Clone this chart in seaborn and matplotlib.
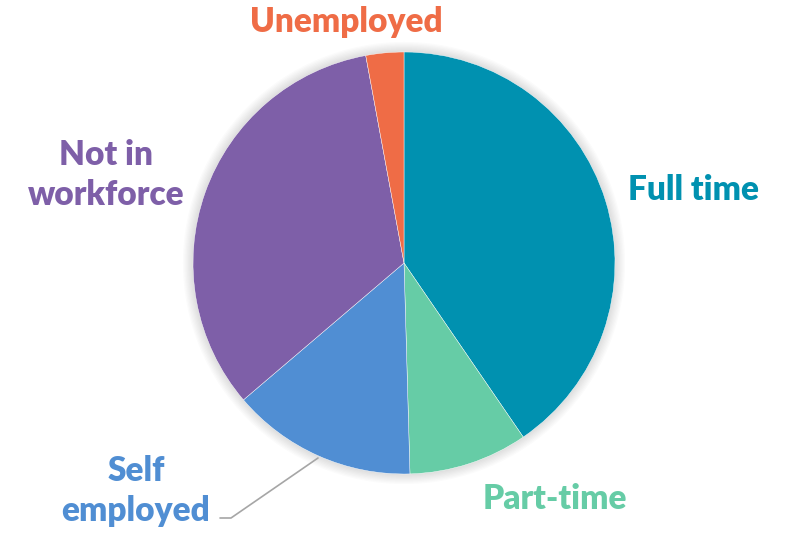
import matplotlib
matplotlib.use("Agg")
import matplotlib.pyplot as plt
import seaborn as sns
from matplotlib.patches import Circle

categories = ["Full time", "Part-time", "Self employed", "Not in workforce", "Unemployed"]
shares = [40.4, 9.1, 14.2, 33.3, 2.9]
label_texts = ["Full time", "Part-time", "Self\nemployed", "Not in\nworkforce", "Unemployed"]
colors = ["#0091b0", "#66cca6", "#508ed3", "#7e5fa8", "#ef6c46"]

sns.set_theme(style="white")
plt.rcParams["font.family"] = ["Lato", "DejaVu Sans"]

W, H = 789, 533
CX, CY, R = 404, 263, 211

fig = plt.figure(figsize=(W / 100, H / 100), dpi=100)
ax = fig.add_axes([0, 0, 1, 1])


def to_data(px, py):
    return (px - CX) / R, (CY - py) / R


# faint soft shadow around the pie
for i in range(8):
    ax.add_patch(Circle((0, 0), 1.0 + 0.006 * (i + 1), color="black",
                        alpha=0.015, lw=0, zorder=0))

ax.pie(shares, colors=colors, startangle=90, counterclock=False,
       radius=1.0, center=(0, 0), frame=True,
       wedgeprops=dict(linewidth=0.3, edgecolor="white"))
ax.set_xlim(-CX / R, (W - CX) / R)
ax.set_ylim(-(H - CY) / R, CY / R)
ax.set_aspect("equal")
ax.axis("off")

label_pos = [(693, 190), (555, 499), (136, 491), (106, 175), (346, 22)]
for txt, (px, py), col in zip(label_texts, label_pos, colors):
    x, y = to_data(px, py)
    ax.text(x, y, txt, color=col, fontsize=24, fontweight="heavy",
            ha="center", va="center", linespacing=1.28)

# leader line for Self employed
pts = [to_data(220, 518), to_data(231, 518), to_data(318, 458)]
ax.plot([p[0] for p in pts], [p[1] for p in pts], color="#a6a6a6", lw=1.2)

fig.savefig("out.png", dpi=100)
